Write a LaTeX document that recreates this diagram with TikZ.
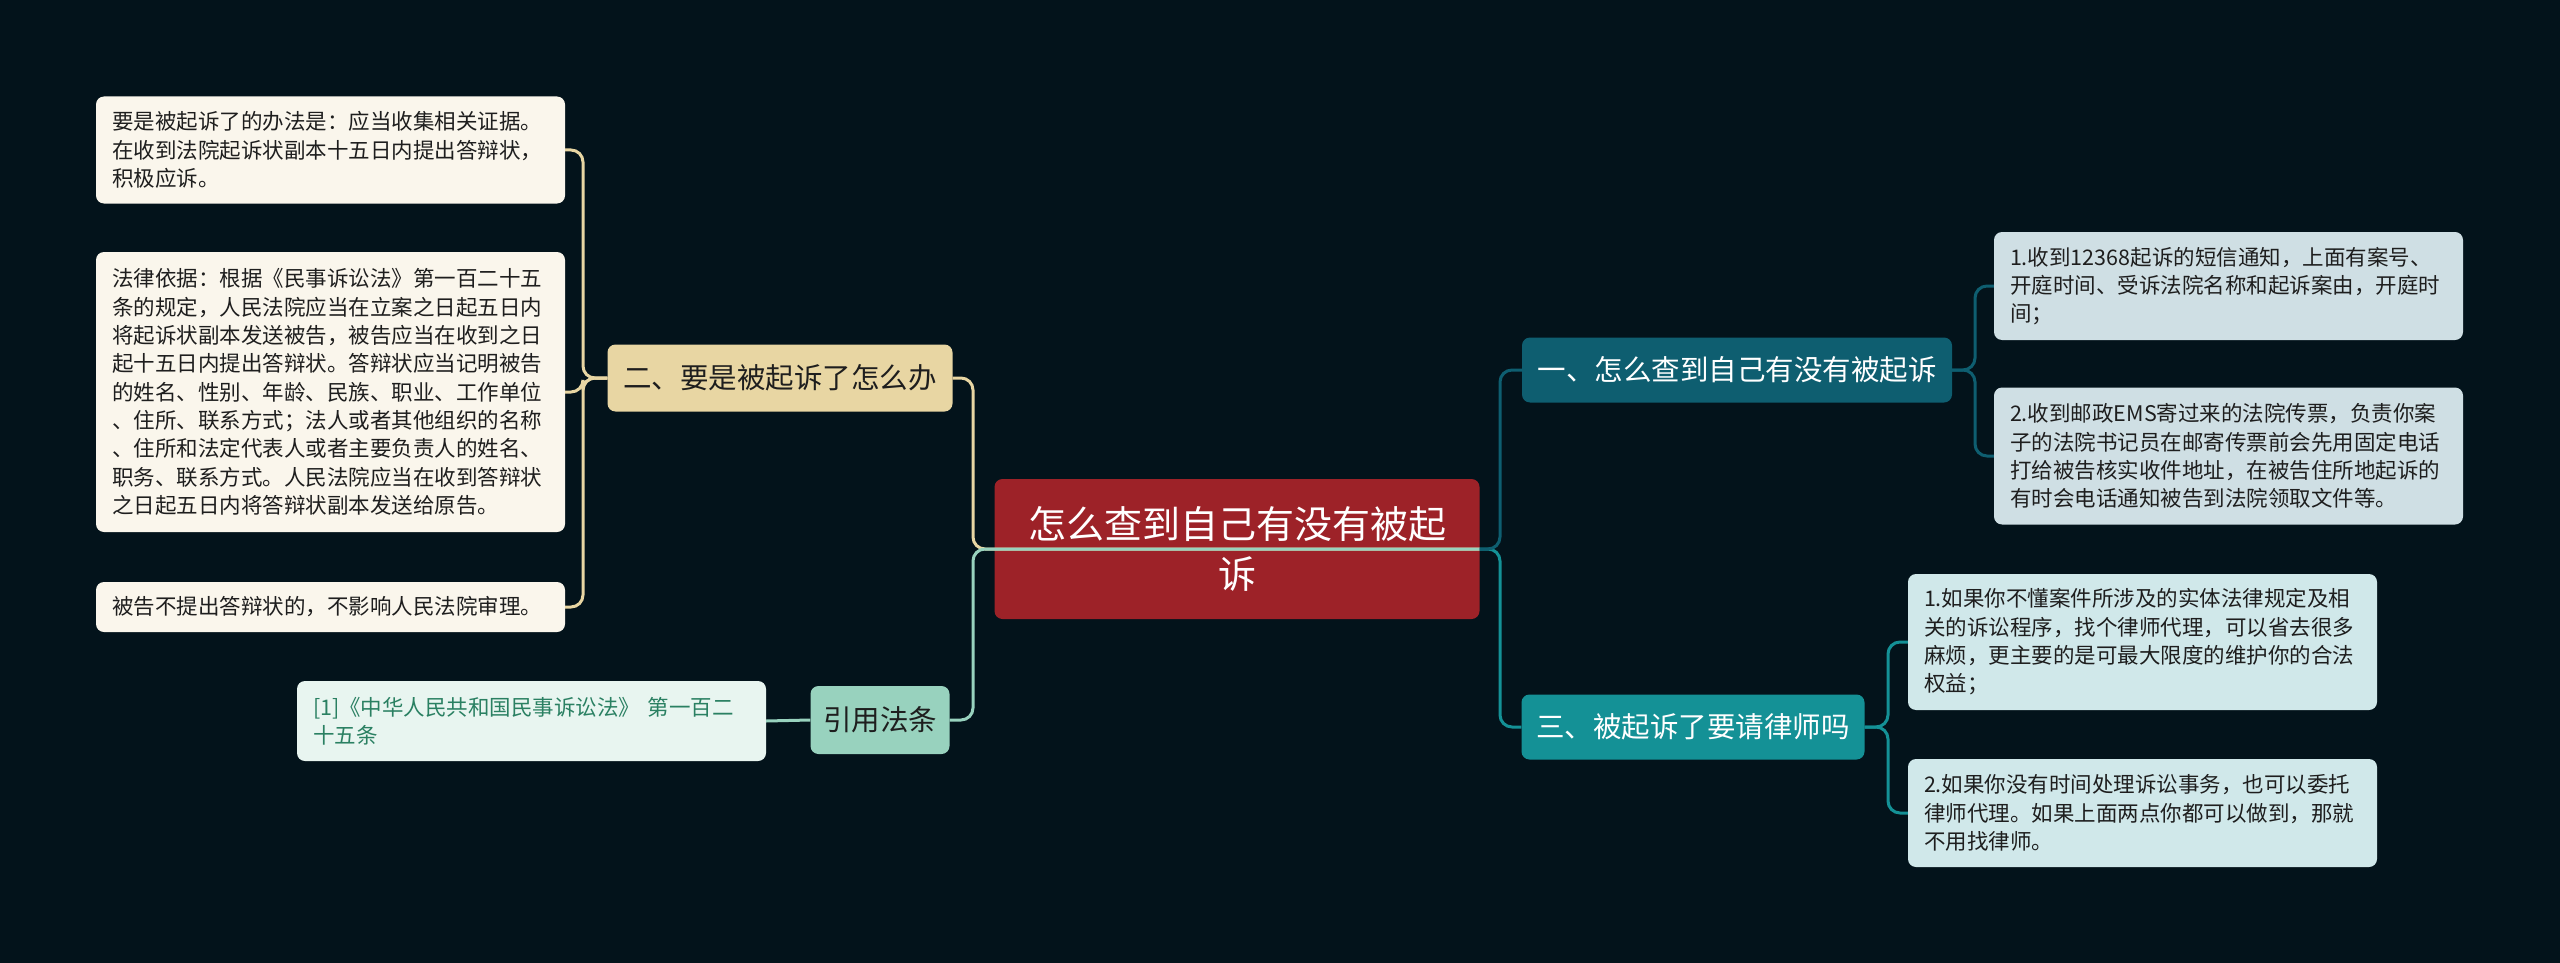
\documentclass[tikz,border=0pt]{standalone}
\usepackage{fontspec}
\newfontfamily\cjk{Noto Sans CJK SC}
\usepackage{xcolor}
\usetikzlibrary{positioning}

\definecolor{bgcol}{RGB}{3,19,27}
\definecolor{rootred}{RGB}{157,34,40}
\definecolor{wheat}{RGB}{232,214,163}
\definecolor{cream}{RGB}{250,246,236}
\definecolor{mint}{RGB}{152,210,190}
\definecolor{mintpale}{RGB}{232,245,240}
\definecolor{mintink}{RGB}{42,128,98}
\definecolor{deepteal}{RGB}{14,94,112}
\definecolor{greyblue}{RGB}{207,223,228}
\definecolor{brightteal}{RGB}{20,145,150}
\definecolor{paleteal}{RGB}{208,232,234}
\definecolor{ink}{RGB}{30,30,30}

\begin{document}
\begin{tikzpicture}[
    x=1pt,y=-1pt,
    topic/.style={rounded corners=8pt, align=center, inner sep=0pt,
                  font=\cjk\fontsize{28.5}{34}\selectfont},
    leaf/.style={rounded corners=8pt, align=left, text width=437pt, inner xsep=16pt,
                 inner ysep=0pt, text=ink, font=\cjk\fontsize{21.5}{28.3}\selectfont},
    link/.style={line width=3pt, rounded corners=12pt}
]
\fill[bgcol] (0,0) rectangle (2560,963);

% Centre topic
\node[topic, fill=rootred, text=white, minimum width=485pt, minimum height=140pt,
      font=\cjk\fontsize{38}{50}\selectfont] (root) at (1237,549) {怎么查到自己有没有被起\\诉};

% Main branches
\node[topic, fill=wheat, text=ink, minimum width=345pt, minimum height=67pt] (howto) at (780,378) {二、要是被起诉了怎么办};
\node[topic, fill=mint, text=ink, minimum width=139pt, minimum height=68pt] (cite) at (880,720) {引用法条};
\node[topic, fill=deepteal, text=white, minimum width=430pt, minimum height=65pt] (check) at (1737,370) {一、怎么查到自己有没有被起诉};
\node[topic, fill=brightteal, text=white, minimum width=343pt, minimum height=65pt] (lawyer) at (1693,727) {三、被起诉了要请律师吗};

% Leaves, left
\node[leaf, fill=cream, minimum height=107pt] (howA) at (330.5,150) {要是被起诉了的办法是：应当收集相关证据。\\在收到法院起诉状副本十五日内提出答辩状，\\积极应诉。};
\node[leaf, fill=cream, minimum height=280pt] (howB) at (330.5,392) {法律依据：根据《民事诉讼法》第一百二十五\\条的规定，人民法院应当在立案之日起五日内\\将起诉状副本发送被告，被告应当在收到之日\\起十五日内提出答辩状。答辩状应当记明被告\\的姓名、性别、年龄、民族、职业、工作单位\\、住所、联系方式；法人或者其他组织的名称\\、住所和法定代表人或者主要负责人的姓名、\\职务、联系方式。人民法院应当在收到答辩状\\之日起五日内将答辩状副本发送给原告。};
\node[leaf, fill=cream, minimum height=50pt] (howC) at (330.5,607) {被告不提出答辩状的，不影响人民法院审理。};
\node[leaf, fill=mintpale, text=mintink, minimum height=80pt] (citeA) at (531.5,721) {[1]《中华人民共和国民事诉讼法》 第一百二\\十五条};

% Leaves, right
\node[leaf, fill=greyblue, minimum height=108pt] (checkA) at (2228.5,286) {1.收到12368起诉的短信通知，上面有案号、\\开庭时间、受诉法院名称和起诉案由，开庭时\\间；};
\node[leaf, fill=greyblue, minimum height=137pt] (checkB) at (2228.5,456) {2.收到邮政EMS寄过来的法院传票，负责你案\\子的法院书记员在邮寄传票前会先用固定电话\\打给被告核实收件地址，在被告住所地起诉的\\有时会电话通知被告到法院领取文件等。};
\node[leaf, fill=paleteal, minimum height=136pt] (lawyerA) at (2142.5,642) {1.如果你不懂案件所涉及的实体法律规定及相\\关的诉讼程序，找个律师代理，可以省去很多\\麻烦，更主要的是可最大限度的维护你的合法\\权益；};
\node[leaf, fill=paleteal, minimum height=108pt] (lawyerB) at (2142.5,813) {2.如果你没有时间处理诉讼事务，也可以委托\\律师代理。如果上面两点你都可以做到，那就\\不用找律师。};

% Junction points
\coordinate (lj) at (973,549);
\coordinate (rj) at (1500,549);
\coordinate (hj) at (583,378);
\coordinate (cj) at (1975,370);
\coordinate (wj) at (1888,727);

% Connectors from the centre
\draw[link, wheat] (root.east) -- (lj) |- (howto.east);
\draw[link, mint] (root.east) -- (lj) |- (cite.east);
\draw[link, brightteal] (root.east) -- (rj) |- (lawyer.west);
\draw[link, deepteal] (root.east) -- (rj) |- (check.west);

% Connectors to leaves
\draw[link, wheat] (howto.west) -- (hj) |- (howA.east);
\draw[link, wheat] (howto.west) -- (hj) |- (howB.east);
\draw[link, wheat] (howto.west) -- (hj) |- (howC.east);
\draw[link, mint] (cite.west) -- (citeA.east);
\draw[link, deepteal] (check.east) -- (cj) |- (checkA.west);
\draw[link, deepteal] (check.east) -- (cj) |- (checkB.west);
\draw[link, brightteal] (lawyer.east) -- (wj) |- (lawyerA.west);
\draw[link, brightteal] (lawyer.east) -- (wj) |- (lawyerB.west);
\end{tikzpicture}
\end{document}
